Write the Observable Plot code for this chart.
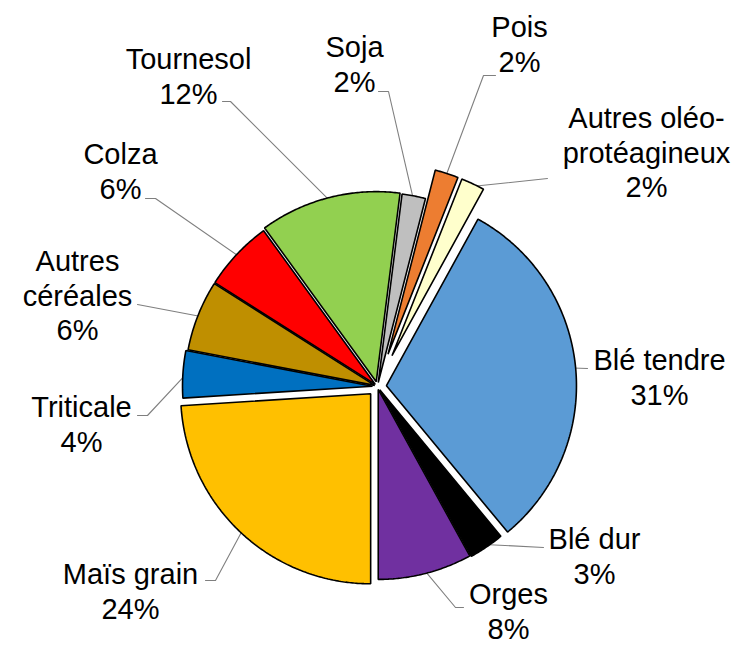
<!DOCTYPE html>
<html>
<head>
<meta charset="utf-8">
<script src="https://cdn.jsdelivr.net/npm/d3@7"></script>
<script src="https://cdn.jsdelivr.net/npm/@observablehq/plot@0.6"></script>
<style>
  html, body { margin: 0; padding: 0; background: #fff; }
  #chart svg { display: block; }
</style>
</head>
<body>
<div id="chart"></div>
<script>
// ---- Data ----
const categories = ["Blé tendre", "Blé dur", "Orges", "Maïs grain", "Triticale", "Autres céréales", "Colza", "Tournesol", "Soja", "Pois", "Autres oléo-protéagineux"];
const shares = [31, 3, 8, 24, 4, 6, 6, 12, 2, 2, 2];
const colors = ["#5B9BD5", "#000000", "#7030A0", "#FFC000", "#0070C0", "#BF8F00", "#FF0000", "#92D050", "#BFBFBF", "#ED7D31", "#FFFFCC"];
const labelLines = ["Blé tendre", "Blé dur", "Orges", "Maïs grain", "Triticale", "Autres\ncéréales", "Colza", "Tournesol", "Soja", "Pois", "Autres oléo-\nprotéagineux"];

// ---- Layout (pixel units relative to pie centre) ----
const W = 738, H = 645;
const CX = 377, CY = 386;
const R = 190;
const startDeg = 28.8;
const explode = [9, 4, 3, 10, 5, 3, 3, 5, 4, 34, 34];
const labelPos = [[282, -10], [217, 169], [131, 224], [-247, 204], [-296, 37], [-300, -92], [-257, -216], [-189, -311], [-23, -323], [142, -343], [269, -235]];
const leaderEnds = [
  [[210, -18]],
  [[166, 161]],
  [[78, 221], [86, 221]],
  [[-162, 194], [-172, 194]],
  [[-230, 29], [-240, 29]],
  [[-240, -82]],
  [[-222, -188], [-232, -188]],
  [[-147, -285], [-155, -285]],
  [[11, -295], [1, -295]],
  [[106, -311], [118, -311]],
  [[170, -208]]
];

const rad = d => d * Math.PI / 180;
const arcs = d3.pie().sort(null).value(d => d)
  .startAngle(rad(startDeg)).endAngle(rad(startDeg) + 2 * Math.PI)(shares);

const slicePts = [];
const leaderPts = [];
const labels = [];
arcs.forEach((a, i) => {
  const mid = (a.startAngle + a.endAngle) / 2;
  const ox = Math.sin(mid) * explode[i], oy = -Math.cos(mid) * explode[i];
  const name = categories[i];
  slicePts.push({name, color: colors[i], x: ox, y: oy});
  const n = Math.max(2, Math.ceil((a.endAngle - a.startAngle) / rad(0.5)));
  for (let k = 0; k <= n; k++) {
    const t = a.startAngle + (a.endAngle - a.startAngle) * k / n;
    slicePts.push({name, color: colors[i], x: ox + Math.sin(t) * R, y: oy - Math.cos(t) * R});
  }
  leaderPts.push({name, x: ox + Math.sin(mid) * (R - 3), y: oy - Math.cos(mid) * (R - 3)});
  leaderEnds[i].forEach(p => leaderPts.push({name, x: p[0], y: p[1]}));
  labels.push({name, x: labelPos[i][0], y: labelPos[i][1], text: labelLines[i] + "\n" + shares[i] + "%"});
});

const chart = Plot.plot({
  width: W,
  height: H,
  margin: 0,
  x: {domain: [-CX, W - CX], range: [0, W], axis: null},
  y: {domain: [-CY, H - CY], range: [0, H], axis: null},
  color: {type: "identity"},
  marks: [
    Plot.line(leaderPts, {x: "x", y: "y", z: "name", stroke: "#7f7f7f", strokeWidth: 1.1}),
    Plot.line(slicePts, {x: "x", y: "y", z: "name", fill: "color", stroke: "#000", strokeWidth: 1.6, curve: "linear-closed", strokeLinejoin: "miter"}),
    Plot.text(labels, {x: "x", y: "y", text: "text", fontSize: 29, lineHeight: 1.2, fontFamily: "Liberation Sans, Arial, sans-serif", fill: "#000", textAnchor: "middle"})
  ]
});
document.getElementById("chart").appendChild(chart);
</script>
</body>
</html>
